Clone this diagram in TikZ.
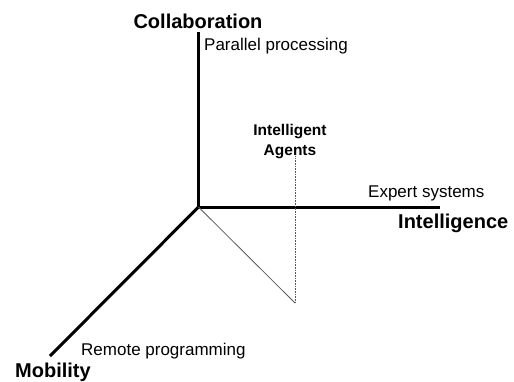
\documentclass[tikz,border=0pt]{standalone}
\usepackage{fontspec}
\setmainfont{Liberation Sans}
\begin{document}
\begin{tikzpicture}[x=1pt,y=-1pt,
  axis/.style={line width=3pt},
  thin/.style={line width=0.8pt,gray!70!black},
  big/.style={font=\bfseries\fontsize{20}{20}\selectfont,inner sep=0pt},
  small/.style={font=\fontsize{17}{17}\selectfont,inner sep=0pt}]
\useasboundingbox (0,0) rectangle (514,381);
\coordinate (O) at (198.5,207);
\coordinate (top) at (198.5,32);
\coordinate (right) at (440,207);
\coordinate (left) at (50,356);
\coordinate (P) at (295,303);
\coordinate (Q) at (295,156);
\draw[axis] (top) -- (O) -- (right);
\draw[axis] (O) -- (left);
\draw[thin] (O) -- (P);
\draw[thin,dash pattern=on 1pt off 0.6pt] (P) -- (Q);
\node[big,anchor=base] (collab) at (198,28) {Collaboration};
\node[small,anchor=base west] (par) at (204,50) {Parallel processing};
\node[big,anchor=base,font=\bfseries\fontsize{15.5}{20}\selectfont,align=center] (ia) at (290,155) {Intelligent\\Agents};
\node[small,anchor=base west] (exp) at (368,197) {Expert systems};
\node[big,anchor=base west] (intel) at (398,228) {Intelligence};
\node[small,anchor=base west] (rem) at (81,355) {Remote programming};
\node[big,anchor=base west] (mob) at (15,377) {Mobility};
\end{tikzpicture}
\end{document}
